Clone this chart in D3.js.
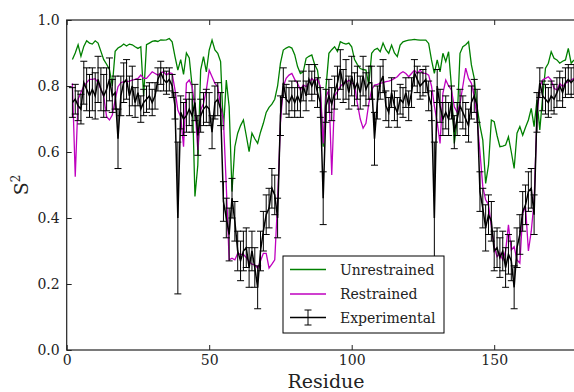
<!DOCTYPE html>
<html>
<head>
<meta charset="utf-8">
<script src="https://cdn.jsdelivr.net/npm/d3@7"></script>
<style>
  html, body { margin: 0; padding: 0; background: #fff; }
  svg { display: block; }
  svg text { font-family: "DejaVu Serif", "Liberation Serif", serif; }
</style>
</head>
<body>
<div id="chart"></div>
<script>
// S2 order parameters per residue, first value belongs to residue 2
const firstResidue = 2;

const unrestrained = [
  .88,.90,.925,.89,.92,.937,.93,.927,.937,.93,
  .905,.88,.866,.85,.80,.905,.915,.92,.927,.921,
  .927,.925,.919,.914,.919,.77,.925,.93,.935,.937,
  .935,.94,.939,.94,.944,.934,.889,.848,.88,.835,
  .90,.885,.80,.465,.56,.848,.889,.843,.909,.939,
  .909,.899,.874,.667,.818,.737,.48,.616,.657,.68,
  .697,.65,.601,.657,.64,.626,.66,.687,.72,.735,
  .745,.76,.80,.869,.909,.915,.919,.915,.895,.859,
  .838,.843,.884,.89,.894,.865,.848,.78,.616,.798,
  .899,.91,.919,.905,.934,.93,.927,.93,.919,.88,
  .865,.853,.85,.848,.803,.899,.91,.914,.904,.93,
  .91,.899,.924,.90,.889,.924,.934,.937,.939,.94,
  .941,.94,.939,.939,.939,.929,.879,.838,.879,.843,
  .899,.874,.904,.798,.626,.697,.899,.919,.925,.934,
  .864,.823,.737,.68,.636,.505,.56,.697,.692,.65,
  .616,.618,.621,.646,.60,.55,.657,.677,.651,.675,
  .697,.732,.677,.758,.667,.767,.854,.869,.904,.884,
  .879,.869,.875,.879,.914,.869,.879
];

const restrained = [
  .808,.525,.76,.78,.80,.81,.82,.82,.822,.81,
  .79,.768,.707,.697,.712,.758,.798,.81,.813,.813,
  .815,.818,.82,.823,.833,.823,.823,.833,.843,.838,
  .833,.84,.843,.833,.84,.838,.788,.727,.707,.616,
  .808,.818,.798,.737,.606,.727,.747,.788,.848,.828,
  .808,.798,.74,.697,.495,.273,.278,.273,.293,.29,
  .29,.28,.268,.26,.258,.248,.27,.293,.293,.248,
  .26,.273,.45,.687,.798,.823,.833,.838,.82,.808,
  .788,.803,.798,.81,.823,.813,.823,.798,.626,.768,
  .788,.53,.77,.783,.798,.808,.81,.818,.81,.803,
  .747,.70,.672,.687,.747,.788,.803,.805,.808,.81,
  .813,.815,.818,.823,.828,.838,.843,.838,.828,.838,
  .848,.838,.848,.838,.838,.833,.80,.74,.69,.626,
  .778,.818,.80,.788,.737,.72,.747,.80,.854,.823,
  .808,.768,.70,.60,.495,.455,.44,.374,.313,.283,
  .293,.273,.30,.379,.303,.313,.273,.263,.414,.434,
  .30,.36,.45,.707,.798,.818,.823,.828,.818,.793,
  .788,.808,.798,.808,.813,.818,.823
];

const experimental = [
  .75,.76,.74,.73,.81,.79,.77,.79,.77,.82,
  .79,.77,.79,.82,.77,.78,.64,.77,.81,.82,
  .77,.80,.75,.78,.73,.75,.76,.77,.75,.77,
  .82,.84,.82,.81,.82,.80,.74,.40,.72,.70,
  .71,.73,.71,.75,.65,.71,.73,.74,.73,.66,
  .75,.76,.73,.45,.40,.35,.46,.39,.30,.27,
  .30,.31,.25,.30,.25,.19,.30,.36,.41,.43,
  .49,.47,.40,.71,.81,.76,.75,.77,.75,.77,
  .75,.80,.77,.82,.80,.82,.78,.75,.46,.74,
  .77,.745,.78,.81,.85,.80,.82,.78,.83,.79,
  .81,.78,.83,.79,.81,.81,.64,.75,.81,.83,
  .74,.72,.78,.74,.72,.76,.75,.78,.74,.78,
  .84,.82,.80,.81,.82,.77,.74,.40,.80,.74,
  .70,.72,.70,.75,.66,.70,.74,.72,.70,.68,
  .75,.77,.74,.48,.43,.37,.41,.39,.30,.31,
  .28,.30,.25,.29,.27,.19,.31,.35,.42,.44,
  .48,.49,.41,.72,.81,.77,.76,.75,.77,.76,
  .78,.80,.78,.81,.82,.81,.82
];

const experimentalErr = [
  .045,.045,.045,.045,.065,.065,.065,.065,.07,.07,
  .065,.065,.065,.065,.05,.05,.09,.06,.06,.06,
  .06,.06,.045,.04,.04,.04,.04,.04,.04,.04,
  .035,.035,.035,.035,.035,.035,.04,.23,.05,.05,
  .05,.05,.05,.055,.06,.05,.05,.05,.05,.05,
  .05,.05,.05,.06,.06,.08,.06,.06,.06,.06,
  .06,.06,.06,.06,.06,.065,.06,.06,.06,.06,
  .06,.06,.06,.06,.045,.045,.045,.045,.045,.045,
  .045,.045,.045,.045,.045,.045,.045,.045,.08,.05,
  .05,.05,.05,.05,.06,.05,.06,.05,.06,.05,
  .05,.05,.06,.05,.05,.05,.08,.05,.05,.05,
  .045,.045,.045,.045,.045,.045,.045,.045,.045,.045,
  .04,.04,.04,.04,.04,.045,.045,.23,.05,.05,
  .05,.05,.05,.05,.05,.05,.05,.05,.05,.05,
  .05,.05,.05,.06,.06,.07,.06,.06,.06,.06,
  .06,.06,.06,.06,.06,.065,.06,.06,.06,.06,
  .06,.06,.06,.06,.045,.045,.045,.045,.045,.045,
  .045,.045,.045,.045,.045,.045,.045
];

const xTicks = [0, 50, 100, 150];
const yTicks = [0, 0.2, 0.4, 0.6, 0.8, 1.0];
const legendLabels = ["Unrestrained", "Restrained", "Experimental"];
const COLORS = { unrestrained: "#008000", restrained: "#bf00bf", experimental: "#000" };

const W = 574, H = 392;
const margin = { top: 20, left: 66.7, bottom: 42 };
const plotW = 518.7;          // axis runs past the right edge of the window
const iH = H - margin.top - margin.bottom;
const FONT = "DejaVu Serif, Liberation Serif, serif";

const svg = d3.select("#chart").append("svg")
  .attr("width", W).attr("height", H)
  .attr("font-family", FONT);

svg.append("rect").attr("width", W).attr("height", H).attr("fill", "#fff");

const g = svg.append("g").attr("transform", `translate(${margin.left},${margin.top})`);

const x = d3.scaleLinear().domain([0, 182]).range([0, plotW]);
const y = d3.scaleLinear().domain([0, 1]).range([iH, 0]);

svg.append("defs").append("clipPath").attr("id", "plot-clip")
  .append("rect").attr("width", plotW).attr("height", iH);

const rows = experimental.map((v, i) => ({
  r: firstResidue + i,
  u: unrestrained[i],
  m: restrained[i],
  e: v,
  err: experimentalErr[i]
}));

const plot = g.append("g").attr("clip-path", "url(#plot-clip)");

const line = key => d3.line().x(d => x(d.r)).y(d => y(d[key]));

plot.append("path").datum(rows)
  .attr("fill", "none").attr("stroke", COLORS.unrestrained).attr("stroke-width", 1.3)
  .attr("d", line("u"));

plot.append("path").datum(rows)
  .attr("fill", "none").attr("stroke", COLORS.restrained).attr("stroke-width", 1.3)
  .attr("d", line("m"));

// error bars with caps
const cap = 3.5;
const bars = plot.append("g").attr("stroke", COLORS.experimental).attr("stroke-width", 1);
bars.selectAll(".eb").data(rows).join("line")
  .attr("x1", d => x(d.r)).attr("x2", d => x(d.r))
  .attr("y1", d => y(d.e - d.err)).attr("y2", d => y(d.e + d.err));
bars.selectAll(".cap-hi").data(rows).join("line").attr("class", "cap-hi")
  .attr("x1", d => x(d.r) - cap).attr("x2", d => x(d.r) + cap)
  .attr("y1", d => y(d.e + d.err)).attr("y2", d => y(d.e + d.err));
bars.selectAll(".cap-lo").data(rows).join("line").attr("class", "cap-lo")
  .attr("x1", d => x(d.r) - cap).attr("x2", d => x(d.r) + cap)
  .attr("y1", d => y(d.e - d.err)).attr("y2", d => y(d.e - d.err));

plot.append("path").datum(rows)
  .attr("fill", "none").attr("stroke", COLORS.experimental).attr("stroke-width", 1.5)
  .attr("d", line("e"));

// frame (right spine falls outside the window)
g.append("rect").attr("width", plotW).attr("height", iH)
  .attr("fill", "none").attr("stroke", "#222").attr("stroke-width", 1.2);

// inward ticks, matplotlib style
const styleAxis = sel => {
  sel.attr("font-family", FONT);
  sel.select(".domain").remove();
  sel.selectAll(".tick line").attr("stroke", "#222").attr("stroke-width", 1);
  sel.selectAll("text").attr("fill", "#222").attr("font-size", 14);
};

g.append("g").attr("transform", `translate(0,${iH})`)
  .call(d3.axisBottom(x).tickValues(xTicks).tickSize(-5).tickPadding(5).tickFormat(d3.format("d")))
  .call(styleAxis);

g.append("g")
  .call(d3.axisTop(x).tickValues(xTicks).tickSize(-5).tickFormat(""))
  .call(styleAxis);

g.append("g")
  .call(d3.axisLeft(y).tickValues(yTicks).tickSize(-5).tickPadding(7).tickFormat(d3.format(".1f")))
  .call(styleAxis);

// axis titles
svg.append("text")
  .attr("x", margin.left + x(91)).attr("y", 388)
  .attr("text-anchor", "middle").attr("font-size", 19).attr("fill", "#222")
  .text("Residue");

const yl = svg.append("text")
  .attr("transform", `translate(28,${margin.top + iH / 2}) rotate(-90)`)
  .attr("text-anchor", "middle").attr("font-size", 19).attr("fill", "#222");
yl.append("tspan").text("S");
yl.append("tspan").attr("font-size", 12).attr("dy", -8).text("2");

// legend
const lg = svg.append("g").attr("transform", "translate(283,256)");
lg.append("rect").attr("width", 161).attr("height", 77)
  .attr("fill", "#fff").attr("stroke", "#000").attr("stroke-width", 1);

const legendColors = [COLORS.unrestrained, COLORS.restrained, COLORS.experimental];
const rowY = [13.5, 38, 61.5];
legendLabels.forEach((label, i) => {
  lg.append("line").attr("x1", 7).attr("x2", 43).attr("y1", rowY[i]).attr("y2", rowY[i])
    .attr("stroke", legendColors[i]).attr("stroke-width", i === 2 ? 1.5 : 1.3);
  lg.append("text").attr("x", 57).attr("y", rowY[i] + 5)
    .attr("font-size", 14).attr("fill", "#222").text(label);
});
// error bar glyph on the experimental legend entry
lg.append("line").attr("x1", 25).attr("x2", 25).attr("y1", rowY[2] - 7.5).attr("y2", rowY[2] + 7.5)
  .attr("stroke", "#000").attr("stroke-width", 1);
[-7.5, 7.5].forEach(dy => {
  lg.append("line").attr("x1", 25 - cap).attr("x2", 25 + cap)
    .attr("y1", rowY[2] + dy).attr("y2", rowY[2] + dy)
    .attr("stroke", "#000").attr("stroke-width", 1);
});
</script>
</body>
</html>
